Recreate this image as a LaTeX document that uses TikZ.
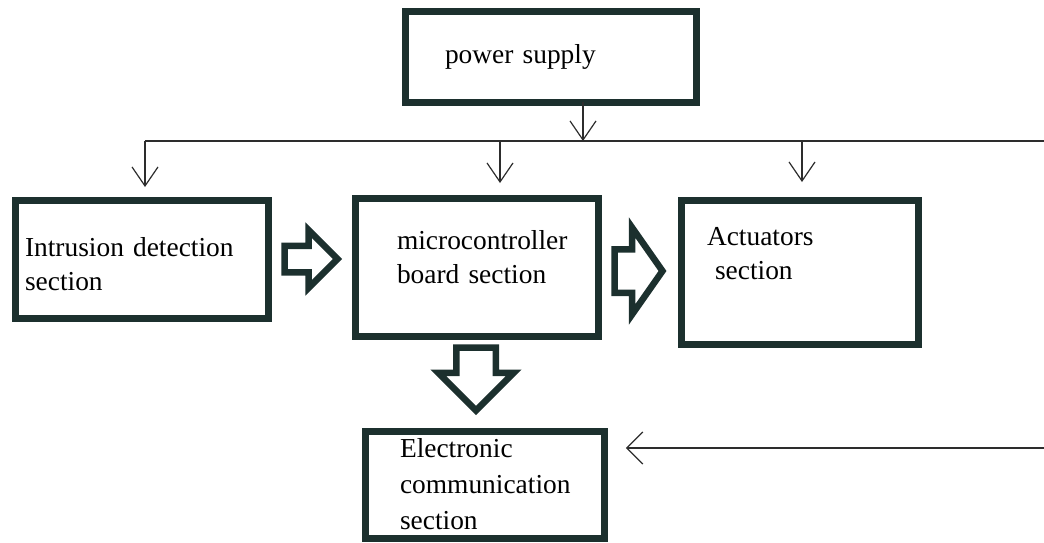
\documentclass[tikz,border=0pt]{standalone}
\usepackage{fontspec}
\setmainfont{Liberation Serif}
\usetikzlibrary{arrows.meta, positioning, shapes.arrows, calc}
\definecolor{boxcolor}{RGB}{28,48,46}
\definecolor{linecolor}{RGB}{45,45,45}
\hyphenpenalty=10000
\tikzset{
  box/.style    = {draw=boxcolor, line width=0.14cm, fill=white, rectangle,
                   align=left, inner ysep=0pt, outer sep=0pt,
                   font=\fontsize{15.6}{19.4}\selectfont},
  fat/.style    = {single arrow, draw=boxcolor, line width=0.13cm, fill=white,
                   inner xsep=0pt, outer sep=0pt, minimum width=0pt,
                   single arrow head indent=0pt},
  feed/.style   = {-{Straight Barb[length=0.38cm, width=0.52cm]},
                   line width=0.024cm, color=linecolor},
  feedin/.style = {-{Straight Barb[length=0.32cm, width=0.64cm]},
                   line width=0.024cm, color=linecolor},
}

\begin{document}
\begin{tikzpicture}[x=0.02cm, y=-0.02cm]
  \useasboundingbox (0,0) rectangle (1044,542);
  % supply bus
  \coordinate (busL) at (145,141);
  \coordinate (busR) at (1044,141);
  \coordinate (tap)  at (583,141);
  \coordinate (tapM) at (500,141);
  \coordinate (tapA) at (802,141);
  \coordinate (comR) at (1044,448);
  \draw[line width=0.024cm, color=linecolor] (busL) -- (busR);

  \node[box, minimum width=5.82cm, minimum height=1.82cm, text width=4.24cm,
        inner xsep=0.79cm] (pwr) at (551,57) {power supply};
  \node[box, minimum width=5.06cm, minimum height=2.36cm, text width=4.68cm,
        inner xsep=0.19cm, text depth=0.49cm] (intr) at (142,259.5)
        {Intrusion detection\\section};
  \node[box, minimum width=4.86cm, minimum height=2.76cm, text width=3.2cm,
        inner xsep=0.83cm, text depth=1.09cm] (micro) at (477,267.5)
        {microcontroller\\board section};
  \node[box, minimum width=4.74cm, minimum height=2.88cm, text width=3.72cm,
        inner xsep=0.51cm, text depth=1.45cm] (act) at (800,272.5)
        {Actuators\\\hspace*{0.16cm}section};
  \node[box, minimum width=4.78cm, minimum height=2.14cm, text width=3.4cm,
        inner xsep=0.69cm, font=\fontsize{15.6}{20.5}\selectfont] (elec)
        at (485,484.5) {Electronic\\communication\\section};

  % block arrows
  \node[fat, anchor=tail, minimum height=1.06cm, inner ysep=0.2cm,
        single arrow head extend=0.31cm] (toMicro) at (284.5,259) {};
  \node[fat, anchor=tail, minimum height=0.96cm, inner ysep=0.37cm,
        single arrow head extend=0.43cm, single arrow tip angle=110]
        (toAct) at (614.5,271) {};
  \node[fat, anchor=tail, rotate=-90, minimum height=1.26cm, inner ysep=0.33cm,
        single arrow head extend=0.36cm] (toElec) at (476,347.5) {};

  % feeds
  \draw[feed] (pwr.south -| tap) -- (tap);
  \draw[feed, shorten >=0.27cm] (busL) -- (busL |- intr.north);
  \draw[feed, shorten >=0.31cm] (tapM) -- (tapM |- micro.north);
  \draw[feed, shorten >=0.37cm] (tapA) -- (tapA |- act.north);
  \draw[feedin, shorten >=0.43cm] (comR) -- (comR -| elec.east);
\end{tikzpicture}
\end{document}
